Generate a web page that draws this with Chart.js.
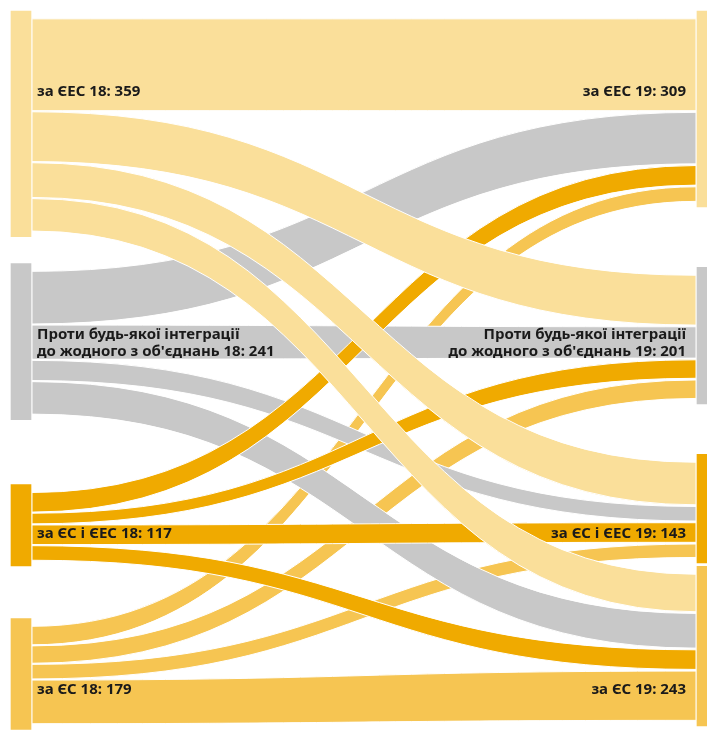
<!DOCTYPE html>
<html>
<head>
<meta charset="utf-8">
<script src="https://cdn.jsdelivr.net/npm/chart.js@4.4.1/dist/chart.umd.min.js"></script>
<style>
  html, body { margin: 0; padding: 0; background: #fff; }
</style>
</head>
<body>
<canvas id="sankey" width="707" height="731"></canvas>
<script>
// групи (однаковий порядок для 2018 і 2019)
var names = ["за ЄЕС", "Проти будь-якої інтеграції\nдо жодного з об'єднань", "за ЄС і ЄЕС", "за ЄС"];
var totals18 = [359, 241, 117, 179];
var totals19 = [309, 201, 143, 243];
// потоки: рядок = група 2018, стовпець = група 2019
// ширина потоку біля стовпця 2018
var flow18 = [
  [164, 89, 62, 58],
  [94, 61, 36, 58],
  [35, 19, 35, 26],
  [33, 31, 26, 78]
];
// ширина того ж потоку біля стовпця 2019
var flow19 = [
  [164, 89, 76, 67],
  [92, 56, 26, 62],
  [35, 33, 35, 35],
  [26, 33, 24, 88]
];
var colors = ["#fadf9a", "#c8c8c8", "#f0aa00", "#f6c552"];

// розкладка (в одиницях осі y)
var padTop = 14, padBottom = 10;
var gaps18 = [48, 116, 94];
var gaps19 = [108, 90, 6];
var labelShift = [47, 0, -2, -18];
var drawOrder = [3, 1, 2, 0];

function stackColumn(widthOf, gaps, linkGap) {
  var nodes = [], ends = [], y = 0;
  for (var n = 0; n < names.length; n++) {
    var top = y, pos = top + padTop;
    ends.push([]);
    for (var k = 0; k < names.length; k++) {
      var w = widthOf(n, k);
      ends[n].push([pos, pos + w]);
      pos += w + linkGap;
    }
    var bottom = pos - linkGap + padBottom;
    nodes.push([top, bottom]);
    y = bottom + (gaps[n] || 0);
  }
  return { nodes: nodes, ends: ends };
}
var left = stackColumn(function (n, k) { return flow18[n][k]; }, gaps18, 2);
var right = stackColumn(function (n, k) { return flow19[k][n]; }, gaps19, 3);

var nodeData = [], nodeColors = [];
left.nodes.forEach(function (r, i) { nodeData.push({ x: 0, y: r }); nodeColors.push(colors[i]); });
right.nodes.forEach(function (r, i) { nodeData.push({ x: 1, y: r }); nodeColors.push(colors[i]); });

var sankeyLinks = {
  id: 'sankeyLinks',
  beforeDatasetsDraw: function (chart) {
    var c = chart.ctx, xs = chart.scales.x, ys = chart.scales.y;
    var x0 = xs.getPixelForValue(0) + 11, x1 = xs.getPixelForValue(1) - 11, xm = (x0 + x1) / 2;
    c.save();
    drawOrder.forEach(function (i) {
      for (var j = 0; j < names.length; j++) {
        var a = left.ends[i][j], b = right.ends[j][i];
        var sT = ys.getPixelForValue(a[0]), sB = ys.getPixelForValue(a[1]);
        var tT = ys.getPixelForValue(b[0]), tB = ys.getPixelForValue(b[1]);
        c.beginPath();
        c.moveTo(x0, sT);
        c.bezierCurveTo(xm, sT, xm, tT, x1, tT);
        c.lineTo(x1, tB);
        c.bezierCurveTo(xm, tB, xm, sB, x0, sB);
        c.closePath();
        c.fillStyle = colors[i];
        c.fill();
        c.strokeStyle = '#ffffff';
        c.lineWidth = 1;
        c.stroke();
      }
    });
    c.restore();
  },
  afterDatasetsDraw: function (chart) {
    var c = chart.ctx, xs = chart.scales.x, ys = chart.scales.y;
    c.save();
    c.font = 'bold 15px "Noto Sans"';
    c.fillStyle = '#1a1a1a';
    c.textBaseline = 'alphabetic';
    for (var i = 0; i < names.length; i++) {
      var a = left.ends[i][i], b = right.ends[i][i];
      var mid = ((a[0] + a[1]) / 2 + (b[0] + b[1]) / 2) / 2 + labelShift[i];
      var cy = ys.getPixelForValue(mid);
      var l18 = (names[i] + ' 18: ' + totals18[i]).split('\n');
      var l19 = (names[i] + ' 19: ' + totals19[i]).split('\n');
      for (var k = 0; k < l18.length; k++) {
        var y = cy + 5 + (k - (l18.length - 1) / 2) * 17;
        c.textAlign = 'left';
        c.fillText(l18[k], xs.getPixelForValue(0) + 16, y);
        c.textAlign = 'right';
        c.fillText(l19[k], xs.getPixelForValue(1) - 21, y);
      }
    }
    c.restore();
  }
};

var ctx = document.getElementById("sankey");
var chart = new Chart(ctx, {
  type: 'bar',
  data: {
    datasets: [{
      data: nodeData,
      backgroundColor: nodeColors,
      borderWidth: 0,
      barThickness: 20,
      clip: false
    }]
  },
  options: {
    responsive: false,
    animation: false,
    devicePixelRatio: 1,
    layout: { padding: { left: 21, right: 0, top: 11, bottom: 0 } },
    plugins: {
      legend: { display: false },
      tooltip: { enabled: false }
    },
    scales: {
      x: { type: 'linear', min: 0, max: 1, offset: false, display: false },
      y: { type: 'linear', min: 0, max: 1286, reverse: true, display: false }
    }
  },
  plugins: [sankeyLinks]
});
</script>
</body>
</html>
